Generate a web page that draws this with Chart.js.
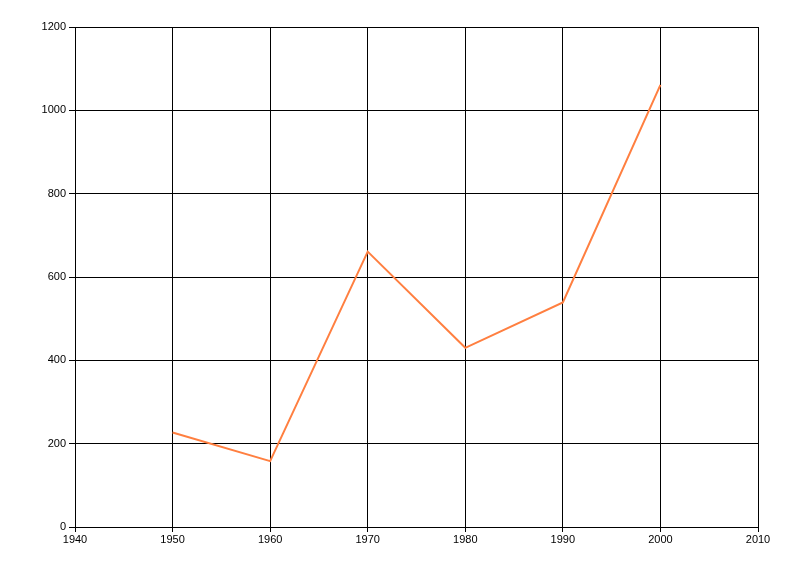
<!DOCTYPE html>
<html>
<head>
<meta charset="utf-8">
<script src="https://cdn.jsdelivr.net/npm/chart.js@4/dist/chart.umd.min.js"></script>
<style>
  html, body { margin: 0; padding: 0; background: #fff; }
  #wrap { width: 800px; height: 576px; position: relative; }
</style>
</head>
<body>
<div id="wrap"><canvas id="chart"></canvas></div>
<script>
  // ── Data ──
  var years = [1950, 1960, 1970, 1980, 1990, 2000];
  var values = [227, 158, 661, 430, 539, 1061];
  var xTicks = [1940, 1950, 1960, 1970, 1980, 1990, 2000, 2010];
  var yTicks = [0, 200, 400, 600, 800, 1000, 1200];

  var lineColor = '#ff7f40';
  var tickFont = { family: "'Liberation Sans', Arial, sans-serif", size: 11 };

  var points = years.map(function (y, i) { return { x: y, y: values[i] }; });

  new Chart(document.getElementById('chart'), {
    type: 'line',
    data: {
      datasets: [{
        data: points,
        borderColor: lineColor,
        borderWidth: 2,
        pointRadius: 0,
        tension: 0,
        fill: false
      }]
    },
    options: {
      responsive: true,
      maintainAspectRatio: false,
      animation: false,
      layout: { padding: { left: 0, top: 27, right: 42, bottom: 0 } },
      plugins: { legend: { display: false }, tooltip: { enabled: false } },
      scales: {
        x: {
          type: 'linear',
          min: xTicks[0],
          max: xTicks[xTicks.length - 1],
          afterBuildTicks: function (scale) {
            scale.ticks = xTicks.map(function (v) { return { value: v }; });
          },
          afterFit: function (scale) { scale.height = 49; },
          grid: { color: '#000', lineWidth: 1, tickLength: 5, tickColor: '#000' },
          border: { color: '#000', width: 1 },
          ticks: {
            color: '#000',
            font: tickFont,
            padding: 1,
            maxRotation: 0,
            autoSkip: false,
            callback: function (v) { return String(v); }
          }
        },
        y: {
          min: yTicks[0],
          max: yTicks[yTicks.length - 1],
          afterBuildTicks: function (scale) {
            scale.ticks = yTicks.map(function (v) { return { value: v }; });
          },
          afterFit: function (scale) { scale.width = 75; },
          grid: { color: '#000', lineWidth: 1, tickLength: 6, tickColor: '#000' },
          border: { color: '#000', width: 1 },
          ticks: {
            color: '#000',
            font: tickFont,
            padding: 3,
            autoSkip: false,
            callback: function (v) { return String(v); }
          }
        }
      }
    }
  });
</script>
</body>
</html>
